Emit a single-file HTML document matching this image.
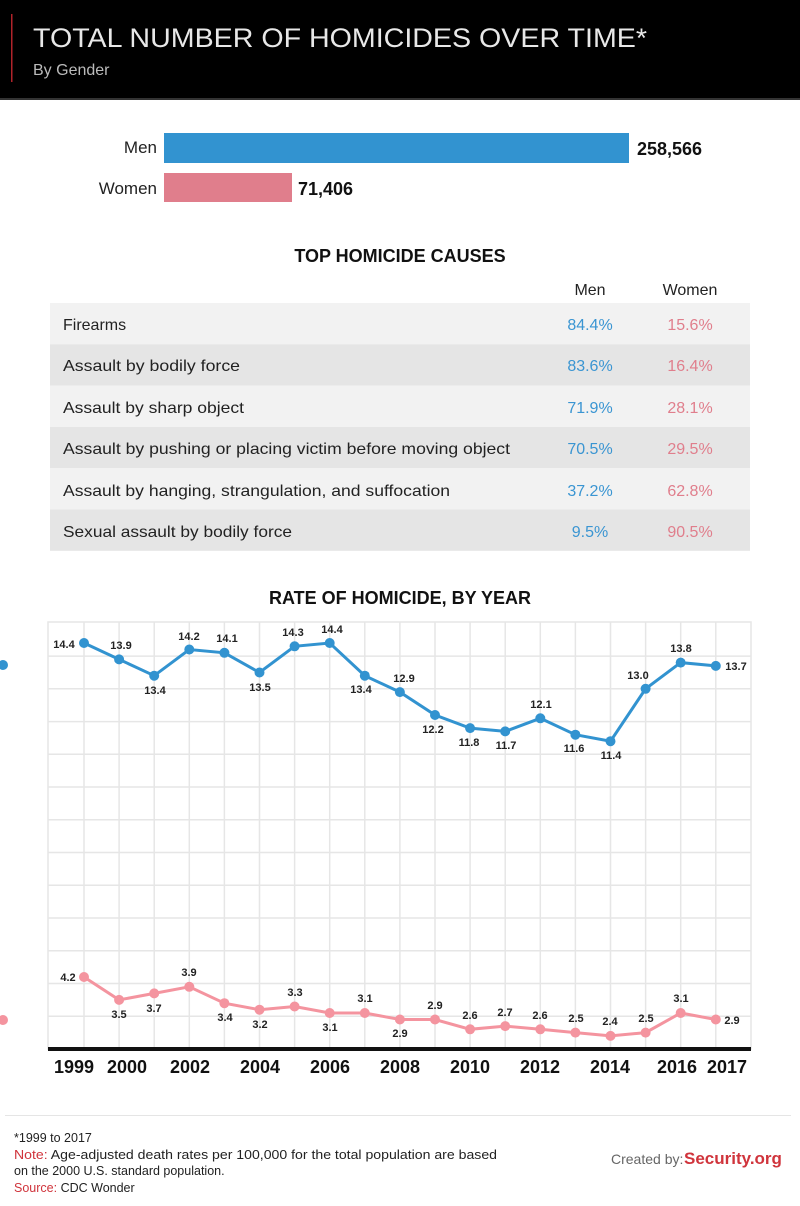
<!DOCTYPE html>
<html><head><meta charset="utf-8"><style>
html,body{margin:0;padding:0;background:#fff;}
svg{display:block;font-family:"Liberation Sans",sans-serif;}
</style></head><body>
<svg width="800" height="1206" viewBox="0 0 800 1206" xmlns="http://www.w3.org/2000/svg">
<rect x="0" y="0" width="800" height="99" fill="#000"/>
<rect x="0" y="98" width="800" height="2" fill="#333"/>
<rect x="11" y="14" width="1.5" height="68" fill="#b0232a"/>
<text x="33" y="47" font-size="27" fill="#e8e8e8" textLength="614" lengthAdjust="spacingAndGlyphs">TOTAL NUMBER OF HOMICIDES OVER TIME*</text>
<text x="33" y="75" font-size="16" fill="#bbb">By Gender</text>

<text x="157" y="153" font-size="17" fill="#222" text-anchor="end">Men</text>
<rect x="164" y="133" width="465" height="30" fill="#3293d0"/>
<text x="637" y="155" font-size="18" font-weight="bold" fill="#111">258,566</text>
<text x="157" y="194" font-size="17" fill="#222" text-anchor="end">Women</text>
<rect x="164" y="173" width="128" height="29" fill="#e07e8c"/>
<text x="298" y="195" font-size="18" font-weight="bold" fill="#111">71,406</text>

<text x="400" y="262" font-size="18" font-weight="bold" fill="#111" text-anchor="middle">TOP HOMICIDE CAUSES</text>
<text x="590" y="295" font-size="16" fill="#222" text-anchor="middle">Men</text>
<text x="690" y="295" font-size="16" fill="#222" text-anchor="middle">Women</text>
<g font-size="16">
<rect x="50" y="303" width="700" height="41.3" fill="#f2f2f2"/>
<rect x="50" y="344.3" width="700" height="41.3" fill="#e5e5e5"/>
<rect x="50" y="385.6" width="700" height="41.3" fill="#f2f2f2"/>
<rect x="50" y="426.9" width="700" height="41.3" fill="#e5e5e5"/>
<rect x="50" y="468.2" width="700" height="41.3" fill="#f2f2f2"/>
<rect x="50" y="509.5" width="700" height="41.3" fill="#e5e5e5"/>
<g fill="#222">
<text x="63" y="330">Firearms</text>
<text x="63" y="371" textLength="177" lengthAdjust="spacingAndGlyphs">Assault by bodily force</text>
<text x="63" y="413" textLength="181" lengthAdjust="spacingAndGlyphs">Assault by sharp object</text>
<text x="63" y="454" textLength="447" lengthAdjust="spacingAndGlyphs">Assault by pushing or placing victim before moving object</text>
<text x="63" y="496" textLength="387" lengthAdjust="spacingAndGlyphs">Assault by hanging, strangulation, and suffocation</text>
<text x="63" y="537" textLength="229" lengthAdjust="spacingAndGlyphs">Sexual assault by bodily force</text>
</g>
<g fill="#3a95d2" text-anchor="middle">
<text x="590" y="330">84.4%</text><text x="590" y="371">83.6%</text><text x="590" y="413">71.9%</text>
<text x="590" y="454">70.5%</text><text x="590" y="496">37.2%</text><text x="590" y="537">9.5%</text>
</g>
<g fill="#e07e8c" text-anchor="middle">
<text x="690" y="330">15.6%</text><text x="690" y="371">16.4%</text><text x="690" y="413">28.1%</text>
<text x="690" y="454">29.5%</text><text x="690" y="496">62.8%</text><text x="690" y="537">90.5%</text>
</g>
</g>

<text x="400" y="604" font-size="18" font-weight="bold" fill="#111" text-anchor="middle">RATE OF HOMICIDE, BY YEAR</text>

<g stroke="#e6e6e6" stroke-width="1.5" fill="none">
<rect x="48" y="622" width="703" height="427"/>
<path d="M48 656.1H751M48 688.8H751M48 721.6H751M48 754.3H751M48 787H751M48 819.8H751M48 852.5H751M48 885.3H751M48 918H751M48 950.8H751M48 983.5H751M48 1016.3H751"/>
<path d="M84 622V1049M119.1 622V1049M154.2 622V1049M189.3 622V1049M224.4 622V1049M259.5 622V1049M294.6 622V1049M329.7 622V1049M364.8 622V1049M399.9 622V1049M435 622V1049M470.1 622V1049M505.2 622V1049M540.3 622V1049M575.4 622V1049M610.5 622V1049M645.6 622V1049M680.7 622V1049M715.8 622V1049"/>
</g>
<rect x="48" y="1047" width="703" height="4" fill="#111"/>
<g font-size="18" font-weight="bold" fill="#111" text-anchor="middle">
<text x="74" y="1073">1999</text><text x="127" y="1073">2000</text><text x="190" y="1073">2002</text>
<text x="260" y="1073">2004</text><text x="330" y="1073">2006</text><text x="400" y="1073">2008</text>
<text x="470" y="1073">2010</text><text x="540" y="1073">2012</text><text x="610" y="1073">2014</text>
<text x="677" y="1073">2016</text><text x="727" y="1073">2017</text>
</g>

<circle cx="3" cy="665" r="5" fill="#3293d0"/>
<circle cx="3" cy="1020" r="5" fill="#f4949f"/>

<polyline fill="none" stroke="#3293d0" stroke-width="3" points="84,643 119.1,659.4 154.2,675.7 189.3,649.5 224.4,652.8 259.5,672.5 294.6,646.3 329.7,643 364.8,675.7 399.9,692.1 435,715 470.1,728.1 505.2,731.4 540.3,718.3 575.4,734.7 610.5,741.2 645.6,688.8 680.7,662.6 715.8,665.9"/>
<g fill="#3293d0">
<circle cx="84" cy="643" r="5"/><circle cx="119.1" cy="659.4" r="5"/><circle cx="154.2" cy="675.7" r="5"/><circle cx="189.3" cy="649.5" r="5"/><circle cx="224.4" cy="652.8" r="5"/><circle cx="259.5" cy="672.5" r="5"/><circle cx="294.6" cy="646.3" r="5"/><circle cx="329.7" cy="643" r="5"/><circle cx="364.8" cy="675.7" r="5"/><circle cx="399.9" cy="692.1" r="5"/><circle cx="435" cy="715" r="5"/><circle cx="470.1" cy="728.1" r="5"/><circle cx="505.2" cy="731.4" r="5"/><circle cx="540.3" cy="718.3" r="5"/><circle cx="575.4" cy="734.7" r="5"/><circle cx="610.5" cy="741.2" r="5"/><circle cx="645.6" cy="688.8" r="5"/><circle cx="680.7" cy="662.6" r="5"/><circle cx="715.8" cy="665.9" r="5"/>
</g>
<g font-size="11" font-weight="bold" fill="#222" text-anchor="middle">
<text x="64" y="648">14.4</text><text x="121" y="649">13.9</text><text x="155" y="694">13.4</text>
<text x="189" y="640">14.2</text><text x="227" y="642">14.1</text><text x="260" y="691">13.5</text>
<text x="293" y="636">14.3</text><text x="332" y="633">14.4</text><text x="361" y="693">13.4</text>
<text x="404" y="682">12.9</text><text x="433" y="733">12.2</text><text x="469" y="746">11.8</text>
<text x="506" y="749">11.7</text><text x="541" y="708">12.1</text><text x="574" y="752">11.6</text>
<text x="611" y="759">11.4</text><text x="638" y="679">13.0</text><text x="681" y="652">13.8</text>
<text x="736" y="670">13.7</text>
</g>

<polyline fill="none" stroke="#f4949f" stroke-width="3" points="84,977 119.1,999.9 154.2,993.4 189.3,986.8 224.4,1003.2 259.5,1009.7 294.6,1006.5 329.7,1013 364.8,1013 399.9,1019.5 435,1019.5 470.1,1029.3 505.2,1026.1 540.3,1029.3 575.4,1032.6 610.5,1035.9 645.6,1032.6 680.7,1013 715.8,1019.5"/>
<g fill="#f4949f">
<circle cx="84" cy="977" r="5"/><circle cx="119.1" cy="999.9" r="5"/><circle cx="154.2" cy="993.4" r="5"/><circle cx="189.3" cy="986.8" r="5"/><circle cx="224.4" cy="1003.2" r="5"/><circle cx="259.5" cy="1009.7" r="5"/><circle cx="294.6" cy="1006.5" r="5"/><circle cx="329.7" cy="1013" r="5"/><circle cx="364.8" cy="1013" r="5"/><circle cx="399.9" cy="1019.5" r="5"/><circle cx="435" cy="1019.5" r="5"/><circle cx="470.1" cy="1029.3" r="5"/><circle cx="505.2" cy="1026.1" r="5"/><circle cx="540.3" cy="1029.3" r="5"/><circle cx="575.4" cy="1032.6" r="5"/><circle cx="610.5" cy="1035.9" r="5"/><circle cx="645.6" cy="1032.6" r="5"/><circle cx="680.7" cy="1013" r="5"/><circle cx="715.8" cy="1019.5" r="5"/>
</g>
<g font-size="11" font-weight="bold" fill="#222" text-anchor="middle">
<text x="68" y="981">4.2</text><text x="119" y="1018">3.5</text><text x="154" y="1012">3.7</text>
<text x="189" y="976">3.9</text><text x="225" y="1021">3.4</text><text x="260" y="1028">3.2</text>
<text x="295" y="996">3.3</text><text x="330" y="1031">3.1</text><text x="365" y="1002">3.1</text>
<text x="400" y="1037">2.9</text><text x="435" y="1009">2.9</text><text x="470" y="1019">2.6</text>
<text x="505" y="1016">2.7</text><text x="540" y="1019">2.6</text><text x="576" y="1022">2.5</text>
<text x="610" y="1025">2.4</text><text x="646" y="1022">2.5</text><text x="681" y="1002">3.1</text>
<text x="732" y="1024">2.9</text>
</g>

<rect x="5" y="1115" width="786" height="1" fill="#e5e5e5"/>
<g font-size="12.5" fill="#222">
<text x="14" y="1142">*1999 to 2017</text>
<text x="14" y="1159" textLength="483" lengthAdjust="spacingAndGlyphs"><tspan fill="#d0343c">Note:</tspan> Age-adjusted death rates per 100,000 for the total population are based</text>
<text x="14" y="1175">on the 2000 U.S. standard population.</text>
<text x="14" y="1192"><tspan fill="#d0343c">Source:</tspan> CDC Wonder</text>
</g>
<text x="611" y="1164" font-size="14" fill="#666">Created by:</text>
<text x="684" y="1164" font-size="17" font-weight="bold" fill="#d0343c">Security.org</text>
</svg>
</body></html>
